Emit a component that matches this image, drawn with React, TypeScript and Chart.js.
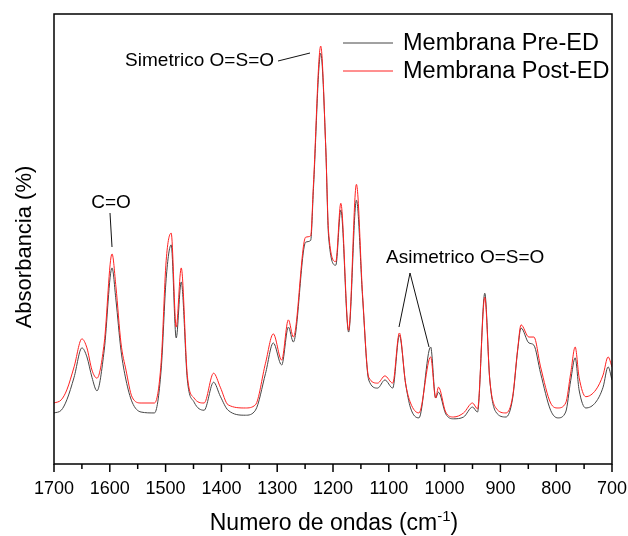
import React, { useEffect, useRef } from "react";
import { Chart, registerables } from "chart.js";

Chart.register(...registerables);

const wavenumbers = [
  1700, 1687, 1677, 1664, 1650, 1641, 1632, 1623, 1610, 1596, 1589, 1580, 1571, 1560, 1544, 1520,
  1508, 1499, 1490, 1481, 1472, 1461, 1449, 1431, 1414, 1402, 1388, 1357, 1339, 1321, 1307, 1292,
  1280, 1271, 1249, 1240, 1235, 1222, 1213, 1208, 1195, 1186, 1172, 1158, 1147, 1136, 1120, 1107,
  1093, 1081, 1070, 1061, 1046, 1025, 1016, 1011, 998, 984, 966, 950, 941, 928, 919, 908, 890, 878,
  869, 863, 849, 840, 828, 810, 797, 783, 774, 766, 759, 747, 729, 716, 707, 700,
];

const preED = [
  11.3, 11.9, 14.2, 19.2, 25.7, 23.7, 19.2, 16.2, 25.2, 43.4, 36.3, 25.2, 18.6, 13.7, 11.5, 11.3,
  20.8, 41.0, 48.5, 27.9, 40.3, 18.6, 13.7, 11.9, 18.1, 15.0, 11.9, 10.8, 11.9, 20.0, 26.8, 21.9,
  30.3, 27.0, 49.1, 49.5, 61.0, 90.9, 70.1, 50.5, 44.0, 56.2, 29.2, 58.4, 36.9, 18.6, 16.8, 18.6,
  16.8, 28.5, 17.9, 12.4, 10.2, 25.9, 14.6, 15.9, 11.1, 10.0, 10.4, 12.6, 11.5, 37.8, 18.6, 11.5, 10.4, 14.6,
  25.2, 30.1, 26.8, 26.3, 20.1, 11.9, 10.2, 11.5, 18.5, 23.5, 16.4, 12.4, 13.7, 17.0, 21.5, 18.6,
];

const postED = [
  13.5, 14.2, 16.4, 21.5, 27.7, 25.7, 20.8, 19.0, 26.8, 46.5, 39.2, 26.8, 20.8, 14.8, 13.5, 13.5,
  22.5, 45.0, 51.1, 30.3, 43.4, 19.5, 14.6, 13.5, 20.1, 17.0, 13.1, 12.4, 13.1, 22.3, 28.8, 23.0,
  31.9, 28.1, 50.2, 50.5, 62.0, 92.5, 70.1, 51.5, 44.8, 57.7, 29.6, 61.9, 37.5, 19.2, 17.9, 19.5,
  17.9, 29.0, 17.9, 13.5, 11.3, 23.7, 14.6, 17.0, 11.5, 10.4, 11.3, 13.5, 12.2, 36.9, 18.6, 12.4, 11.3, 15.0,
  25.5, 30.8, 28.1, 28.1, 21.5, 13.5, 12.4, 13.5, 20.1, 25.9, 19.2, 14.9, 16.4, 19.7, 23.7, 21.5,
];

const xTickValues = [1700, 1600, 1500, 1400, 1300, 1200, 1100, 1000, 900, 800, 700];
const seriesNames = ["Membrana Pre-ED", "Membrana Post-ED"];
const seriesColors = ["#454545", "#ff2020"];

const FONT = "'Liberation Sans', Arial, sans-serif";

const overlayPlugin = {
  id: "overlay",
  afterDraw(chart: any) {
    const ctx = chart.ctx as CanvasRenderingContext2D;
    const area = chart.chartArea;
    const xs = chart.scales.x;
    ctx.save();
    // frame
    ctx.strokeStyle = "#000";
    ctx.lineWidth = 1.5;
    ctx.strokeRect(area.left, area.top, area.right - area.left, area.bottom - area.top);
    // ticks
    for (let v = 700; v <= 1700; v += 50) {
      const px = xs.getPixelForValue(v);
      const len = v % 100 === 0 ? 8 : 5;
      ctx.beginPath();
      ctx.moveTo(px, area.bottom);
      ctx.lineTo(px, area.bottom + len);
      ctx.stroke();
    }
    ctx.fillStyle = "#000";
    // x title with superscript
    const main = "Numero de ondas (cm";
    const sup = "-1";
    const end = ")";
    ctx.font = `23px ${FONT}`;
    const w1 = ctx.measureText(main).width;
    const w3 = ctx.measureText(end).width;
    ctx.font = `15px ${FONT}`;
    const w2 = ctx.measureText(sup).width;
    const total = w1 + w2 + w3;
    const cx = 334;
    const sx = cx - total / 2;
    const baseY = 530;
    ctx.textAlign = "left";
    ctx.textBaseline = "alphabetic";
    ctx.font = `23px ${FONT}`;
    ctx.fillText(main, sx, baseY);
    ctx.font = `15px ${FONT}`;
    ctx.fillText(sup, sx + w1, baseY - 9);
    ctx.font = `23px ${FONT}`;
    ctx.fillText(end, sx + w1 + w2, baseY);
    // y title
    ctx.save();
    ctx.translate(31, 247);
    ctx.rotate(-Math.PI / 2);
    ctx.textAlign = "center";
    ctx.font = `22px ${FONT}`;
    ctx.fillText("Absorbancia (%)", 0, 0);
    ctx.restore();
    // annotations
    ctx.font = `19px ${FONT}`;
    ctx.textAlign = "center";
    ctx.fillText("C=O", 111, 208);
    ctx.textAlign = "right";
    ctx.fillText("Simetrico O=S=O", 274, 66);
    ctx.textAlign = "left";
    ctx.fillText("Asimetrico O=S=O", 386, 263);
    ctx.lineWidth = 1;
    ctx.strokeStyle = "#111";
    ctx.beginPath();
    ctx.moveTo(110, 213);
    ctx.lineTo(112, 247);
    ctx.moveTo(278, 61);
    ctx.lineTo(310, 53);
    ctx.moveTo(399, 327);
    ctx.lineTo(410, 273);
    ctx.lineTo(429, 347);
    ctx.stroke();
    // legend
    const legY = [43, 71];
    ctx.font = `23.5px ${FONT}`;
    ctx.textBaseline = "middle";
    for (let i = 0; i < 2; i++) {
      ctx.strokeStyle = seriesColors[i];
      ctx.lineWidth = 1;
      ctx.beginPath();
      ctx.moveTo(343, legY[i]);
      ctx.lineTo(393, legY[i]);
      ctx.stroke();
      ctx.fillStyle = "#000";
      ctx.fillText(seriesNames[i], 403, legY[i] + 1);
    }
    ctx.restore();
  },
};

export default function App() {
  const canvasRef = useRef<HTMLCanvasElement | null>(null);
  useEffect(() => {
    if (!canvasRef.current) return;
    const pre = wavenumbers.map((x, i) => ({ x, y: preED[i] }));
    const post = wavenumbers.map((x, i) => ({ x, y: postED[i] }));
    const chart = new Chart(canvasRef.current, {
      type: "line",
      data: {
        datasets: [
          {
            label: seriesNames[0],
            data: pre,
            borderColor: seriesColors[0],
            borderWidth: 1,
            pointRadius: 0,
            cubicInterpolationMode: "monotone",
            order: 2,
          },
          {
            label: seriesNames[1],
            data: post,
            borderColor: seriesColors[1],
            borderWidth: 1,
            pointRadius: 0,
            cubicInterpolationMode: "monotone",
            order: 1,
          },
        ],
      },
      options: {
        animation: false,
        responsive: false,
        devicePixelRatio: 1,
        layout: { padding: { top: 14, right: 16, left: 0, bottom: 0 } },
        plugins: { legend: { display: false }, tooltip: { enabled: false } },
        scales: {
          x: {
            type: "linear",
            reverse: true,
            min: 700,
            max: 1700,
            afterFit: (s: any) => {
              s.height = 72;
              s.paddingLeft = 0;
              s.paddingRight = 0;
            },
            afterBuildTicks: (s: any) => {
              s.ticks = xTickValues.map((v) => ({ value: v }));
            },
            grid: { display: false, drawTicks: false },
            border: { display: false },
            ticks: {
              autoSkip: false,
              maxRotation: 0,
              padding: 14,
              color: "#000",
              font: { size: 18, family: FONT },
              callback: (v: any) => String(v),
            },
          },
          y: {
            min: 0,
            max: 99.6,
            afterFit: (s: any) => {
              s.width = 54;
              s.paddingTop = 0;
              s.paddingBottom = 0;
            },
            grid: { display: false, drawTicks: false },
            border: { display: false },
            ticks: { display: false },
          },
        },
      },
      plugins: [overlayPlugin],
    } as any);
    return () => chart.destroy();
  }, []);
  return (
    <div style={{ position: "absolute", left: 0, top: 0, width: 628, height: 536, background: "#fff" }}>
      <canvas ref={canvasRef} width={628} height={536} />
    </div>
  );
}
